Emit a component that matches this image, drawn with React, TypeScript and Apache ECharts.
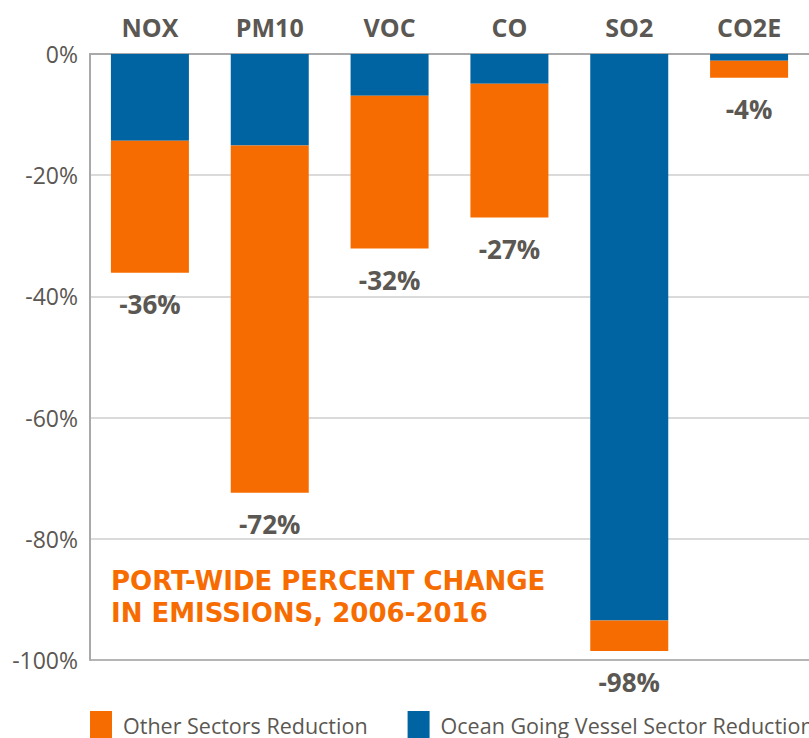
import React, { useEffect, useRef } from "react";
import * as echarts from "echarts";

const categories = ["NOX", "PM10", "VOC", "CO", "SO2", "CO2E"];
const oceanGoingVessel = [-14.3, -15.1, -6.9, -4.9, -93.5, -1.1];
const otherSectors = [-21.8, -57.3, -25.2, -22.1, -5.0, -2.8];
const totalLabels = ["-36%", "-72%", "-32%", "-27%", "-98%", "-4%"];
const yTicks = [0, -20, -40, -60, -80, -100];

const ORANGE = "#f76c00";
const BLUE = "#0064a3";
const TEXT = "#5b5752";
const FONT = "'Open Sans', sans-serif";

export default function App() {
  const ref = useRef<HTMLDivElement>(null);
  useEffect(() => {
    if (!ref.current) return;
    const chart = echarts.init(ref.current, null, { renderer: "svg" });
    chart.setOption({
      animation: false,
      textStyle: { fontFamily: FONT },
      title: {
        text: "PORT-WIDE PERCENT CHANGE\nIN EMISSIONS, 2006-2016",
        left: 106,
        top: 560,
        textStyle: {
          fontFamily: "'DejaVu Sans', sans-serif",
          fontSize: 26,
          fontWeight: "bold",
          color: ORANGE,
          lineHeight: 32,
        },
      },
      legend: {
        left: 90,
        top: 711,
        width: 1200,
        padding: 0,
        itemWidth: 22,
        itemHeight: 28,
        itemGap: 40,
        icon: "rect",
        data: ["Other Sectors Reduction", "Ocean Going Vessel Sector Reduction"],
        textStyle: {
          fontFamily: FONT,
          fontSize: 21.5,
          color: TEXT,
          padding: [0, 0, 0, 6],
        },
      },
      grid: { left: 90, right: -1, top: 54, bottom: 78, containLabel: false },
      xAxis: {
        type: "category",
        position: "top",
        data: categories,
        axisLine: { show: true, lineStyle: { color: "#a9a9a9", width: 2 } },
        axisTick: { show: false },
        axisLabel: {
          margin: 15,
          fontFamily: FONT,
          fontSize: 25,
          fontWeight: "bold",
          color: TEXT,
        },
      },
      yAxis: {
        type: "value",
        min: -100,
        max: 0,
        interval: 20,
        axisLine: { show: true, lineStyle: { color: "#a9a9a9", width: 2 } },
        axisTick: { show: false },
        axisLabel: {
          margin: 12,
          fontFamily: FONT,
          fontSize: 23,
          color: TEXT,
          formatter: (v: number) => (yTicks.includes(v) ? `${v}%` : ""),
        },
        splitLine: {
          show: true,
          lineStyle: {
            color: ["#b5b5b5", "#dadada", "#dadada", "#dadada", "#dadada", "#b5b5b5"],
            width: 2,
          },
        },
      },
      series: [
        {
          name: "Ocean Going Vessel Sector Reduction",
          type: "bar",
          stack: "total",
          data: oceanGoingVessel,
          barWidth: 78,
          itemStyle: { color: BLUE },
        },
        {
          name: "Other Sectors Reduction",
          type: "bar",
          stack: "total",
          data: otherSectors,
          barWidth: 78,
          itemStyle: { color: ORANGE },
          label: {
            show: true,
            position: "bottom",
            distance: 18,
            fontFamily: FONT,
            fontSize: 26,
            fontWeight: "bold",
            color: TEXT,
            formatter: (p: any) => totalLabels[p.dataIndex],
          },
        },
      ],
    });
    return () => chart.dispose();
  }, []);
  return (
    <div
      ref={ref}
      style={{ position: "absolute", left: 0, top: 0, width: 809, height: 738, background: "#fff" }}
    />
  );
}
